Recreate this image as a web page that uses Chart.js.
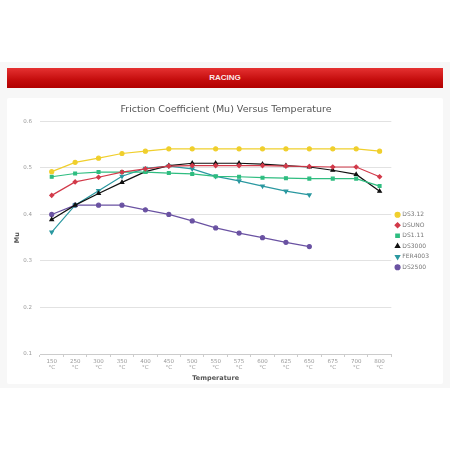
<!DOCTYPE html>
<html lang="en">
<head>
<meta charset="UTF-8">
<title>Racing - Friction Coefficient</title>
<style>
  html, body { margin: 0; padding: 0; background: #fff; }
  body { width: 450px; height: 450px; position: relative; overflow: hidden; font-family: "Liberation Sans", Arial, sans-serif; }
  .page { position: absolute; left: 0; top: 62px; width: 450px; height: 326px; background: #f7f7f7; }
  .banner {
    position: absolute; left: 7px; top: 68px; width: 436px; height: 20px;
    background: linear-gradient(#e53131, #c40c0c 60%, #b10000);
    color: #fbe9e9; font-weight: bold; font-size: 8px; line-height: 20px; text-align: center;
  }
  .card { position: absolute; left: 7px; top: 98px; width: 436px; height: 286px; background: #fff; border-radius: 2px; }
</style>
<script src="https://cdn.jsdelivr.net/npm/chart.js"></script>
</head>
<body>
<div class="page"></div>
<div class="banner">RACING</div>
<div class="card"><canvas id="chart" width="436" height="286"></canvas></div>
<script>
const temperatures = ['150', '250', '300', '350', '400', '450', '500', '550', '575', '600', '625', '650', '675', '700', '800'];
const ds312   = [0.492, 0.512, 0.521, 0.531, 0.536, 0.541, 0.541, 0.541, 0.541, 0.541, 0.541, 0.541, 0.541, 0.541, 0.536];
const dsuno   = [0.441, 0.470, 0.480, 0.491, 0.498, 0.504, 0.505, 0.505, 0.505, 0.505, 0.504, 0.503, 0.502, 0.502, 0.481];
const ds111   = [0.481, 0.488, 0.491, 0.491, 0.491, 0.489, 0.487, 0.482, 0.481, 0.479, 0.478, 0.477, 0.477, 0.477, 0.461];
const ds3000  = [0.389, 0.420, 0.445, 0.469, 0.492, 0.505, 0.510, 0.510, 0.510, 0.508, 0.505, 0.502, 0.495, 0.486, 0.450];
const fer4003 = [0.362, 0.420, 0.451, 0.482, 0.499, 0.504, 0.498, 0.482, 0.472, 0.461, 0.450, 0.442, null, null, null];
const ds2500  = [0.400, 0.420, 0.420, 0.420, 0.410, 0.400, 0.386, 0.371, 0.360, 0.350, 0.340, 0.331, null, null, null];
const yTicks  = [0.1, 0.2, 0.3, 0.4, 0.5, 0.6];

const series = [
  { label: 'DS3.12',  data: ds312,   color: '#f0cf2c', style: 'circle',   rot: 0 },
  { label: 'DSUNO',   data: dsuno,   color: '#d23a4a', style: 'rectRot',  rot: 0 },
  { label: 'DS1.11',  data: ds111,   color: '#2fbd80', style: 'rect',     rot: 0 },
  { label: 'DS3000',  data: ds3000,  color: '#111111', style: 'triangle', rot: 0 },
  { label: 'FER4003', data: fer4003, color: '#2a98a0', style: 'triangle', rot: 180 },
  { label: 'DS2500',  data: ds2500,  color: '#6a52a2', style: 'circle',   rot: 0 }
];

new Chart(document.getElementById('chart'), {
  type: 'line',
  data: {
    labels: temperatures.map(t => [t, '°C']),
    datasets: series.map(s => ({
      label: s.label,
      data: s.data,
      borderColor: s.color,
      backgroundColor: s.color,
      borderWidth: 1.2,
      pointStyle: s.style,
      pointRotation: s.rot,
      pointRadius: 2,
      pointHoverRadius: 3,
      tension: 0,
      spanGaps: false
    }))
  },
  options: {
    responsive: false,
    animation: false,
    layout: { padding: { left: 6, right: 4, top: 2, bottom: 2 } },
    plugins: {
      title: {
        display: true,
        text: 'Friction Coefficient (Mu) Versus Temperature',
        color: '#555',
        font: { family: 'DejaVu Sans', size: 9.5, weight: 'normal' },
        padding: { top: 4, bottom: 6 }
      },
      legend: {
        position: 'right',
        align: 'center',
        labels: {
          usePointStyle: true,
          boxWidth: 3.5,
          boxHeight: 3.5,
          padding: 4.5,
          color: '#777',
          font: { family: 'DejaVu Sans', size: 6 }
        }
      },
      tooltip: { enabled: false }
    },
    scales: {
      x: {
        offset: true,
        grid: { display: true, drawOnChartArea: false, drawTicks: true, tickLength: 3, color: '#ccc', offset: true },
        border: { color: '#ccc' },
        ticks: { color: '#999', font: { family: 'DejaVu Sans', size: 5.5 }, maxRotation: 0, autoSkip: false, padding: 1 },
        title: { display: true, text: 'Temperature', color: '#555', font: { family: 'DejaVu Sans', size: 6.5, weight: 'bold' }, padding: { top: 2, bottom: 0 } }
      },
      y: {
        min: 0.1,
        max: 0.6,
        afterBuildTicks: scale => { scale.ticks = yTicks.map(v => ({ value: v })); },
        grid: { color: '#e2e2e2', drawTicks: false },
        border: { display: false },
        ticks: { color: '#999', font: { family: 'DejaVu Sans', size: 5.5 }, padding: 8, callback: v => v.toFixed(1) },
        title: { display: true, text: 'Mu', color: '#555', font: { family: 'DejaVu Sans', size: 6.5, weight: 'bold' }, padding: 0 },
        afterFit: scale => { scale.width = 27; }
      }
    }
  }
});
</script>
</body>
</html>
